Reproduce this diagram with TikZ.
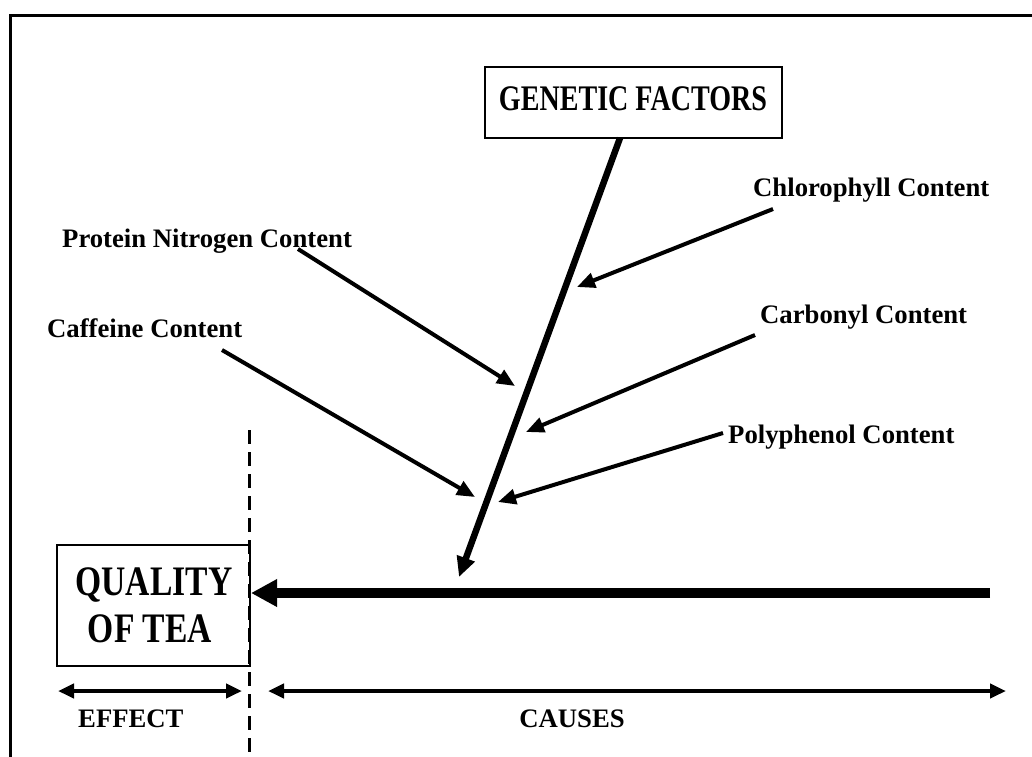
\documentclass[tikz,border=0pt]{standalone}
\usepackage{fontspec}
\usepackage{graphicx}
\setmainfont{Liberation Serif}
\usetikzlibrary{arrows.meta}

% narrow, tall bold capitals for the two boxes
\newcommand\narrowcaps[2]{\scalebox{#1}[1]{#2}}

\begin{document}
\begin{tikzpicture}[x=1pt,y=-1pt,
  frame/.style={line width=3pt},
  box/.style={draw, line width=2pt, inner sep=0pt},
  gtext/.style={font=\fontsize{36}{40}\selectfont\bfseries, inner sep=0pt, anchor=base},
  qtext/.style={font=\fontsize{42}{47}\selectfont\bfseries, inner sep=0pt, anchor=base},
  lbl/.style={font=\fontsize{26.7}{30}\selectfont\bfseries, inner sep=0pt, anchor=base west},
  branch/.style={line width=4pt, -{Triangle[length=18pt,width=15pt]}},
  genline/.style={line width=6.5pt, -{Triangle[length=20pt,width=18pt]}},
  spine/.style={line width=10pt, -{Triangle[length=26pt,width=26pt]}},
  span/.style={line width=4pt, {Triangle[length=16pt,width=14pt]}-{Triangle[length=16pt,width=14pt]}},
  divider/.style={line width=3pt, dash pattern=on 14pt off 8pt}
]
\useasboundingbox (0,0) rectangle (1032,756);
\fill[white] (0,0) rectangle (1032,756);

% outer frame: top and left edges
\draw[frame] (1040,15) -- (10,15) -- (10,770);

% effect box
\node[box, minimum width=193pt, minimum height=121pt] (qual) at (153.5,605.5) {};
\node[qtext] (qual1) at (154,595) {\narrowcaps{0.8}{QUALITY}};
\node[qtext] (qual2) at (150,642) {\narrowcaps{0.8}{OF TEA}};

% head category box
\node[box, minimum width=297pt, minimum height=71pt] (gen) at (633.5,102.5) {};
\node[gtext] (gentxt) at (633,110) {\narrowcaps{0.78}{GENETIC FACTORS}};

% dashed divider between effect and causes
\coordinate (divtop) at (249,430);
\coordinate (divbot) at (249,760);
\draw[divider] (divtop) -- (divbot);

% main spine
\coordinate (spR) at (990,593);
\draw[spine] (spR) -- (spR -| qual.east);

% genetic factors bone
\coordinate (gtop) at (620,138);
\coordinate (gtip) at (459,577);
\draw[genline] (gtop) -- (gtip);

% cause labels
\node[lbl] (chl) at (753,196) {Chlorophyll Content};
\node[lbl] (pro) at (62,247) {Protein Nitrogen Content};
\node[lbl] (car) at (760,323) {Carbonyl Content};
\node[lbl] (caf) at (47,337) {Caffeine Content};
\node[lbl] (pol) at (728,443) {Polyphenol Content};

% sub-cause arrows onto the bone
\coordinate (chlS) at (773,209);  \coordinate (chlE) at (577,287);
\coordinate (proS) at (298,249);  \coordinate (proE) at (515,386);
\coordinate (carS) at (755,335);  \coordinate (carE) at (526,432);
\coordinate (cafS) at (222,350);  \coordinate (cafE) at (475,497);
\coordinate (polS) at (723,433);  \coordinate (polE) at (498,502);
\draw[branch] (chlS) -- (chlE);
\draw[branch] (proS) -- (proE);
\draw[branch] (carS) -- (carE);
\draw[branch] (cafS) -- (cafE);
\draw[branch] (polS) -- (polE);

% effect / causes spans
\coordinate (effL) at (58,691);   \coordinate (effR) at (242,691);
\coordinate (cauL) at (268,691);  \coordinate (cauR) at (1006,691);
\draw[span] (effL) -- (effR);
\draw[span] (cauL) -- (cauR);
\node[lbl] (eff) at (78,727) {EFFECT};
\node[lbl, anchor=base] (cau) at (572,727) {CAUSES};
\end{tikzpicture}
\end{document}
